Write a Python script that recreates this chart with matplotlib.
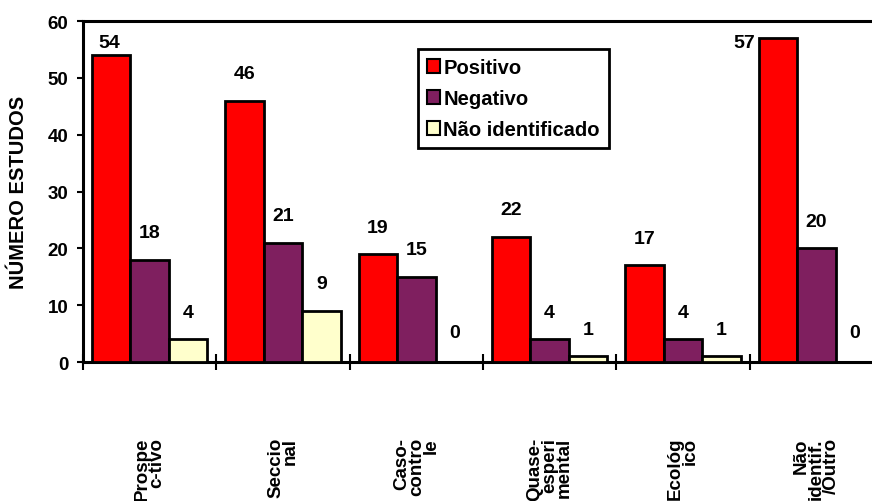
import matplotlib
matplotlib.use("Agg")
import matplotlib.pyplot as plt
from matplotlib.patches import Patch
import numpy as np

# Study design categories (x axis) and counts per result type
categories = ["Prospe\nc-tivo", "Seccio\nnal", "Caso-\ncontro\nle",
              "Quase-\nesperi\nmental", "Ecológ\nico", "Não\nidentif.\n/Outro"]
series_names = ["Positivo", "Negativo", "Não identificado"]
positivo = [54, 46, 19, 22, 17, 57]
negativo = [18, 21, 15, 4, 4, 20]
nao_identificado = [4, 9, 0, 1, 1, 0]
y_ticks = [0, 10, 20, 30, 40, 50, 60]

colors = ["#FF0000", "#7F1F5F", "#FFFFCC"]

plt.rcParams["font.family"] = ["Liberation Sans", "DejaVu Sans"]
plt.rcParams["font.weight"] = "bold"

W, H = 872, 502
fig = plt.figure(figsize=(W / 100, H / 100), dpi=100)
ax = fig.add_axes([83 / W, 1 - 363 / H, 800 / W, 341 / H])

x = np.arange(len(categories))
bw = 0.289
all_series = [positivo, negativo, nao_identificado]
offsets = [-bw, 0, bw]

for vals, off, col in zip(all_series, offsets, colors):
    ax.bar(x + off, vals, width=bw, color=col, edgecolor="black",
           linewidth=2.0, zorder=3)

# value labels above each bar
vfs = 14
for si, (vals, off) in enumerate(zip(all_series, offsets)):
    for ci, v in enumerate(vals):
        xp = x[ci] + off
        if v >= 57:
            ax.annotate(str(v), (xp - bw / 2, v), xytext=(-3, -4),
                        textcoords="offset pixels", ha="right", va="center",
                        fontsize=vfs, fontweight="bold")
        elif v >= 54:
            ax.annotate(str(v), (xp, v), xytext=(-2, 13),
                        textcoords="offset pixels", ha="center", va="center",
                        fontsize=vfs, fontweight="bold")
        else:
            dy = 29 if v == 0 else 27
            ax.annotate(str(v), (xp, v), xytext=(0, dy),
                        textcoords="offset pixels", ha="center", va="center",
                        fontsize=vfs, fontweight="bold")

ax.set_xlim(-0.5, len(categories) - 0.5)
ax.set_ylim(0, 60)
ax.set_yticks(y_ticks)
ax.set_yticklabels([str(t) for t in y_ticks], fontsize=13.5, fontweight="bold")

ax.set_xticks(x)
ax.set_xticklabels(categories, rotation=90, fontsize=13.5, fontweight="bold",
                   linespacing=0.82, multialignment="right", va="top")
ax.set_xticks(np.arange(len(categories) + 1) - 0.5, minor=True)
ax.tick_params(axis="x", which="major", length=0, pad=54)
ax.tick_params(axis="x", which="minor", direction="inout", length=11,
               width=1.5)
ax.tick_params(axis="y", direction="out", length=4.5, width=1.5, pad=6)

for s in ["left", "bottom", "top"]:
    ax.spines[s].set_linewidth(2.2)
ax.spines["right"].set_visible(False)

ax.set_ylabel("NÚMERO ESTUDOS", fontsize=14.5, fontweight="bold", labelpad=14)

handles = [Patch(facecolor=c, edgecolor="black", linewidth=1.5) for c in colors]
leg = ax.legend(handles, series_names, loc="upper left",
                bbox_to_anchor=(418 / W, 1 - 50 / H),
                bbox_transform=fig.transFigure, borderaxespad=0,
                prop={"size": 14.5, "weight": "bold"},
                handlelength=0.65, handleheight=0.65, handletextpad=0.15,
                labelspacing=0.6, borderpad=0.45, fancybox=False,
                framealpha=1, edgecolor="black")
leg.get_frame().set_linewidth(2.0)

fig.savefig("out.png", dpi=100)
